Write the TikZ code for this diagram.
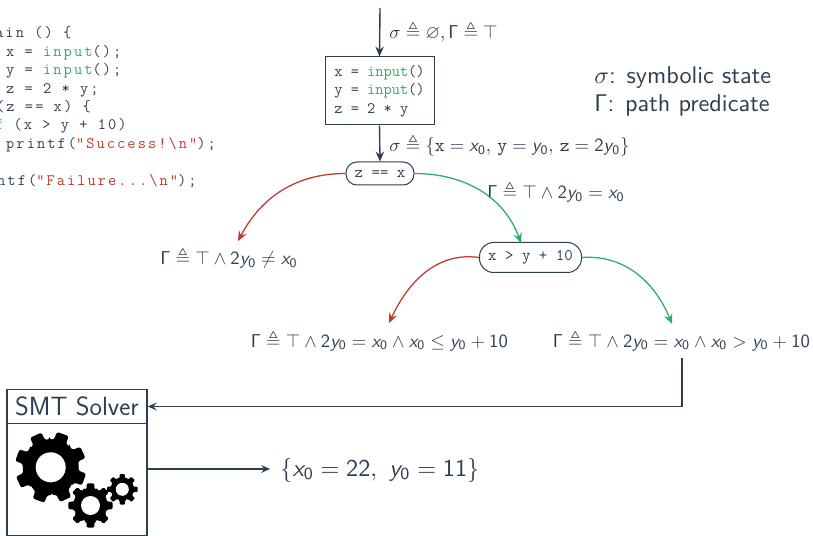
\documentclass[tikz,border=0pt]{standalone}
\usepackage{amsmath,amssymb}
\usepackage[no-math]{fontspec}
\setsansfont{Latin Modern Sans}
\setmonofont{Latin Modern Mono}
\newfontfamily\listfont[LetterSpace=13]{Latin Modern Mono}
\renewcommand{\familydefault}{\sfdefault}
\DeclareSymbolFont{operators}{OT1}{cmss}{m}{n}
\DeclareSymbolFont{sloped}{OT1}{cmss}{m}{sl}
\DeclareMathSymbol{x}{\mathalpha}{sloped}{`x}
\DeclareMathSymbol{y}{\mathalpha}{sloped}{`y}
\usetikzlibrary{arrows.meta,calc}
\definecolor{ink}{HTML}{2C3E50}
\definecolor{okgreen}{HTML}{27AE60}
\definecolor{badred}{HTML}{C0392B}
\newcommand{\tv}[1]{\mbox{\ttfamily #1}}
\newcommand{\kw}[1]{\textcolor{okgreen}{#1}}
\newcommand{\str}[1]{\textcolor{badred}{#1}}
\newcommand{\gearshape}[7]{% cx cy outer root hole rot corner
  \begin{scope}[shift={(#1,#2)},rotate=#6]
  \fill[black,rounded corners=#7]
    (-22.5:#4) \foreach \a in {0,45,...,315} {
      -- (\a-22.5:#4) -- (\a-13:#4) -- (\a-10:#3) -- (\a+10:#3) -- (\a+13:#4) -- (\a+22.5:#4)
    } -- cycle;
  \fill[white] (0,0) circle[radius=#5];
  \end{scope}}
\tikzset{
  flow/.style={draw=ink,line width=1.4bp,-{Stealth[length=10bp,width=8.5bp,inset=3.5bp]}},
  thin flow/.style={draw=ink,line width=1.05bp,-{Stealth[length=9bp,width=8bp,inset=3.5bp]}},
  stmt/.style={draw=ink,line width=1bp,text=ink,align=left,inner sep=0pt,minimum width=109bp,minimum height=68bp,font=\ttfamily\fontsize{16}{18.5}\selectfont},
  guard/.style={draw=ink,line width=1bp,text=ink,inner sep=0pt,font=\ttfamily\fontsize{16.5}{18}\selectfont},
  lbl/.style={text=ink,inner sep=0pt,scale=1.87,anchor=base west},
  legend/.style={text=ink,inner sep=0pt,anchor=base west,scale=2.43},
  code/.style={text=ink,inner sep=0pt,anchor=base west,font=\listfont\fontsize{16}{18}\selectfont},
  solverbox/.style={draw=ink,line width=1.7bp,inner sep=0pt},
  truearrow/.style={draw=okgreen,line width=1.25bp,-{Stealth[length=10bp,width=8.5bp,inset=3.5bp]}},
  falsearrow/.style={draw=badred,line width=1.25bp,-{Stealth[length=10bp,width=8.5bp,inset=3.5bp]}},
}
\begin{document}
\begin{tikzpicture}[x=1bp,y=-1bp]
\useasboundingbox (0,0) rectangle (813,536);
% listing
\node[code] (l1) at (-5,38) {ain () \{};
\node[code] (l2) at (6,56.5) {x = \kw{input}();};
\node[code] (l3) at (6,75) {y = \kw{input}();};
\node[code] (l4) at (6,93.5) {z = 2 * y;};
\node[code] (l5) at (-4,111.5) {(z == x) \{};
\node[code] (l6) at (-5,130) {\kw{f} (x > y + 10)};
\node[code] (l7) at (6,148.5) {printf(\str{"Success!\textbackslash n"});};
\node[code] (l8) at (-3,185.5) {ntf(\str{"Failure...\textbackslash n"});};
% flow
\coordinate (entry) at (380,8);
\node[stmt] (block) at (379.5,91) {x = \kw{input}()\\y = \kw{input}()\\z = 2 * y};
\node[guard,minimum width=68bp,minimum height=23bp,rounded corners=11bp] (g1) at (380,173.5) {z == x};
\node[guard,minimum width=102bp,minimum height=30bp,rounded corners=14bp] (g2) at (530.5,257.5) {x > y + 10};
\draw[flow] (entry) -- (block.north);
\draw[flow] (block.south) -- (g1.north);
\node[lbl] (s0) at (389,38.5) {$\sigma \triangleq \varnothing, \Gamma \triangleq \top$};
\node[lbl] (s1) at (389,151.5) {$\sigma \triangleq \{\tv{x}=x_0,\,\tv{y}=y_0,\,\tv{z}=2y_0\}$};
\node[lbl] (p1) at (487,199) {$\Gamma \triangleq \top\wedge 2y_0=x_0$};
\node[lbl] (p2) at (160,265) {$\Gamma \triangleq \top\wedge 2y_0\neq x_0$};
\node[lbl] (p3) at (250.5,347) {$\Gamma \triangleq \top\wedge 2y_0=x_0\wedge x_0\leq y_0+10$};
\node[lbl] (p4) at (552.5,347) {$\Gamma \triangleq \top\wedge 2y_0=x_0\wedge x_0>y_0+10$};
\coordinate (t1) at (238,241);
\coordinate (t2) at (521,243);
\coordinate (t3) at (389,323);
\coordinate (t4) at (672,324);
\draw[falsearrow] (g1.west) to[out=180,in=62] (t1);
\draw[truearrow] (g1.east) to[out=0,in=110] (t2);
\draw[falsearrow] (g2.west) to[out=172,in=65] (t3);
\draw[truearrow] (g2.east) to[out=4,in=112] (t4);
\node[legend] (leg1) at (594,84) {$\sigma$: symbolic state};
\node[legend] (leg2) at (594,112) {$\Gamma$: path predicate};
% solver
\node[solverbox,text=ink,minimum width=140bp,minimum height=34bp,font=\fontsize{26.5}{30}\selectfont] (solver) at (77,406.5) {SMT Solver};
\node[solverbox,minimum width=140bp,minimum height=112bp] (engine) at (77,479.5) {};
\gearshape{50.7}{467.3}{36}{28}{15}{25}{2.2bp}
\gearshape{90.5}{505.5}{22.5}{17}{9.5}{0}{1.4bp}
\gearshape{122.3}{489.3}{15.5}{11.5}{6.5}{0}{1bp}
\coordinate (bend) at (682,358);
\draw[thin flow] (bend) |- (solver.east);
\node[text=ink,inner sep=0pt,anchor=base west,scale=2.43] (res) at (280,476) {$\{x_0=22,\ y_0=11\}$};
\coordinate (restip) at (270,469);
\draw[thin flow] (engine.east |- restip) -- (restip);
\end{tikzpicture}
\end{document}
